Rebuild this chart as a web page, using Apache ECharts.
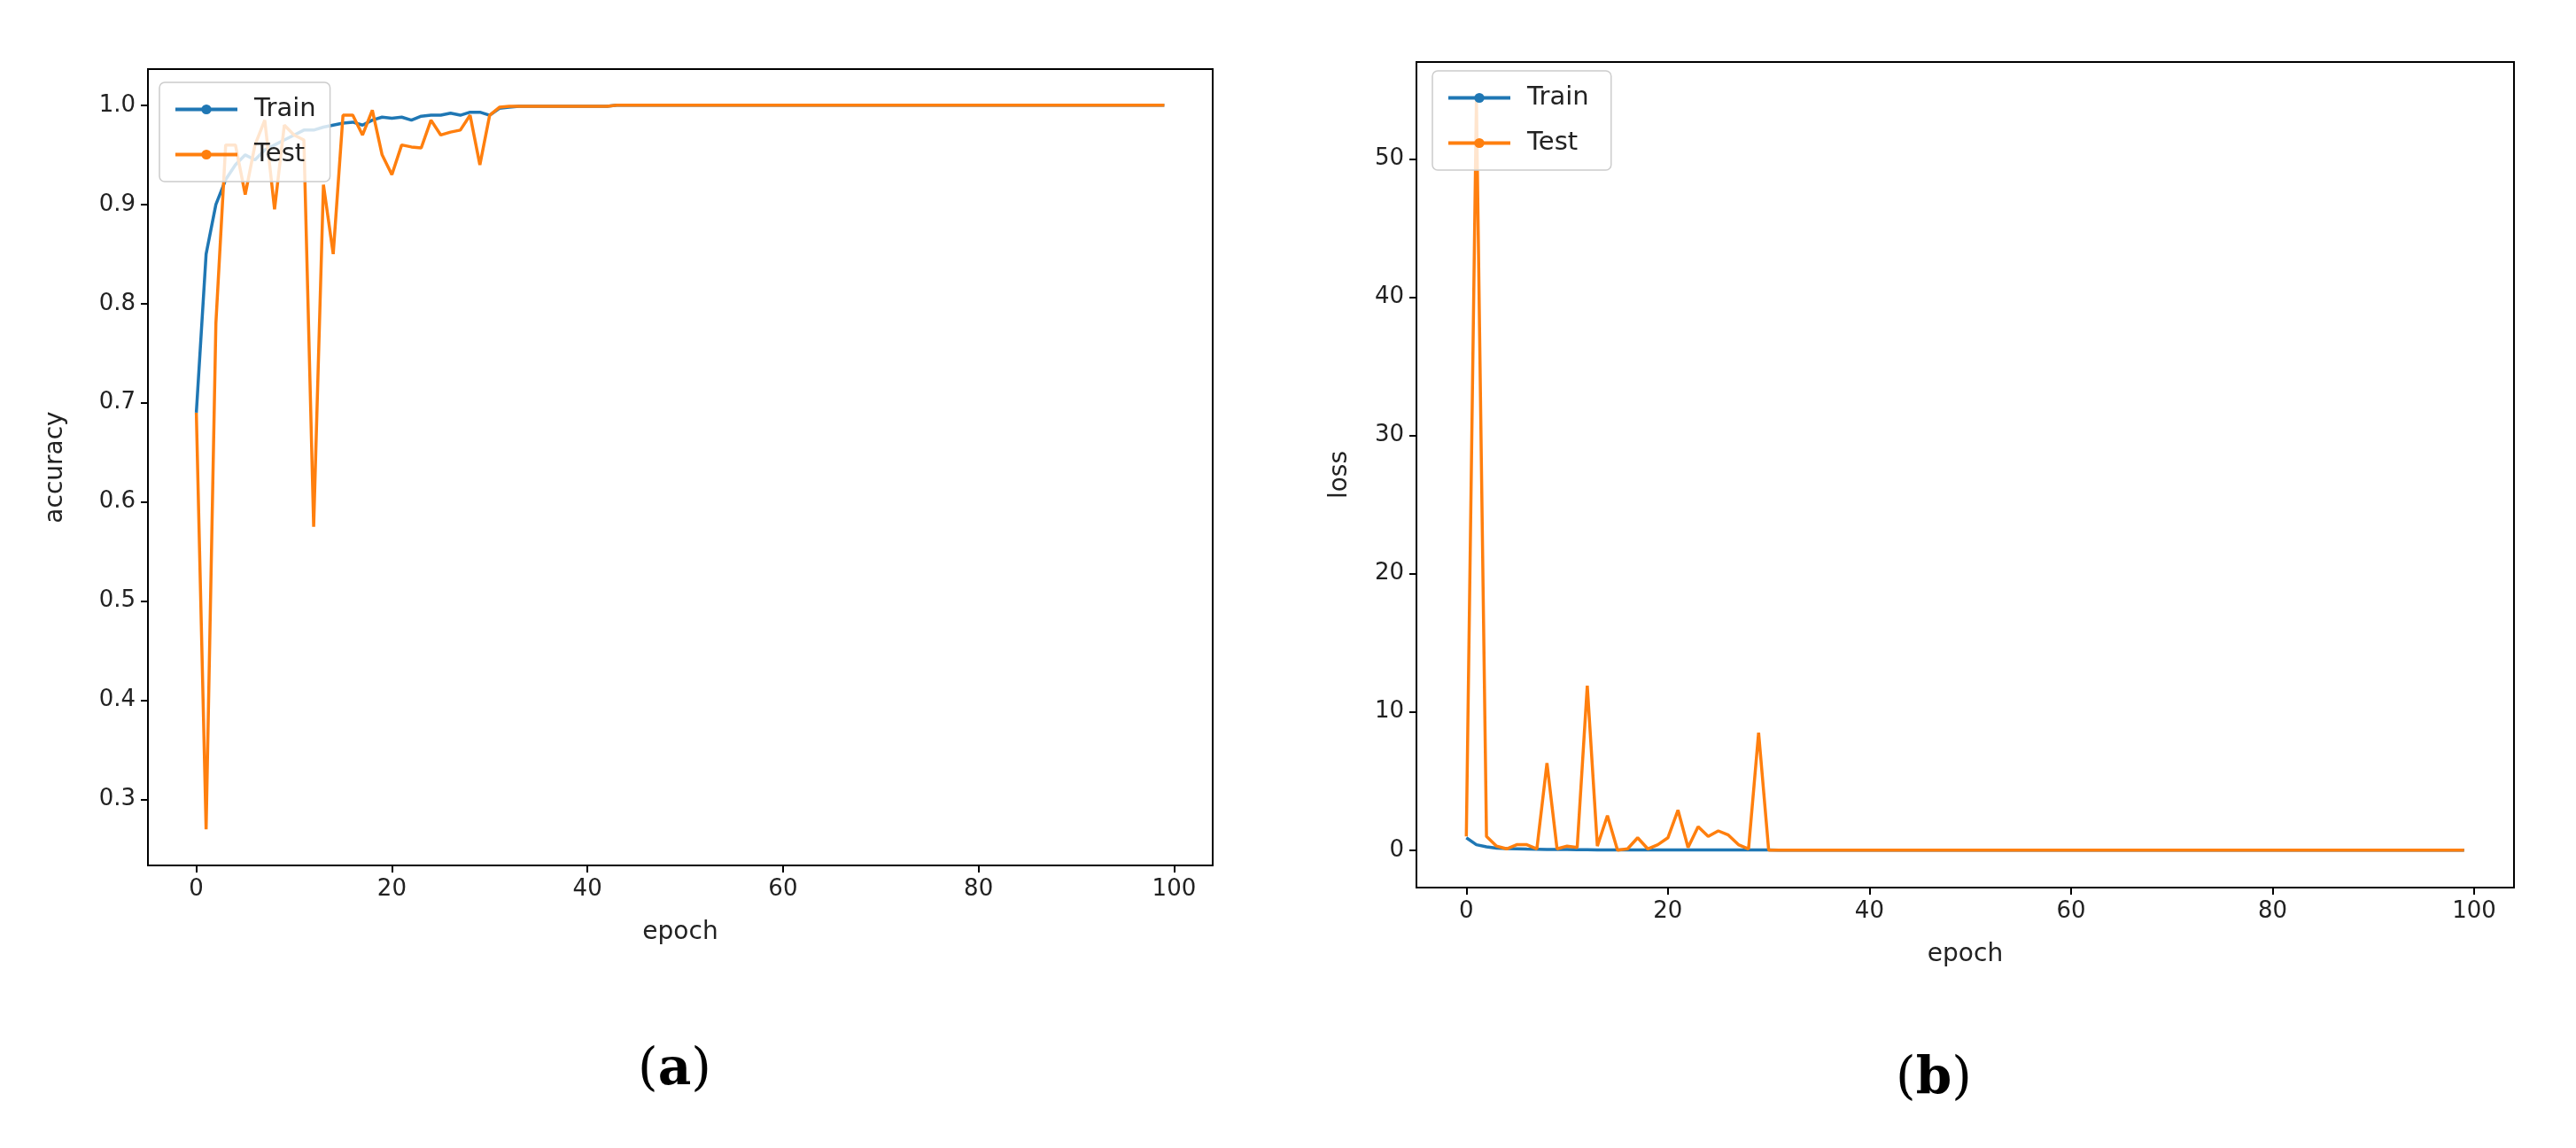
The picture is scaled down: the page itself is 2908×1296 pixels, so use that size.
<!DOCTYPE html>
<html>
<head>
<meta charset="utf-8">
<script src="https://cdn.jsdelivr.net/npm/echarts@6/dist/echarts.min.js"></script>
<style>html,body{margin:0;background:#fff}#c{width:2908px;height:1296px}</style>
</head>
<body>
<div id="c"></div>
<script>
// epochs 0..99
var epochs = [];
for (var i = 0; i < 100; i++) epochs.push(i);

var accTrain = [0.69,0.85,0.90,0.925,0.94,0.95,0.945,0.955,0.96,0.965,
  0.97,0.975,0.975,0.978,0.98,0.982,0.983,0.98,0.985,0.988,
  0.987,0.988,0.985,0.989,0.99,0.99,0.992,0.99,0.993,0.993,
  0.99,0.997,0.998,0.999,0.999,0.999,0.999,0.999,0.999,0.999,
  0.999,0.999,0.999,1,1,1,1,1,1,1,
  1,1,1,1,1,1,1,1,1,1,
  1,1,1,1,1,1,1,1,1,1,
  1,1,1,1,1,1,1,1,1,1,
  1,1,1,1,1,1,1,1,1,1,
  1,1,1,1,1,1,1,1,1,1];
var accTest = [0.69,0.27,0.78,0.96,0.96,0.91,0.96,0.985,0.895,0.98,
  0.97,0.965,0.575,0.92,0.85,0.99,0.99,0.97,0.995,0.95,
  0.93,0.96,0.958,0.957,0.985,0.97,0.973,0.975,0.99,0.94,
  0.99,0.998,0.999,0.999,0.999,0.999,0.999,0.999,0.999,0.999,
  0.999,0.999,0.999,1,1,1,1,1,1,1,
  1,1,1,1,1,1,1,1,1,1,
  1,1,1,1,1,1,1,1,1,1,
  1,1,1,1,1,1,1,1,1,1,
  1,1,1,1,1,1,1,1,1,1,
  1,1,1,1,1,1,1,1,1,1];
var lossTrain = [0.9,0.4,0.25,0.15,0.12,0.1,0.08,0.07,0.06,0.05,
  0.05,0.04,0.04,0.03,0.03,0.03,0.03,0.02,0.02,0.02,
  0.02,0.02,0.02,0.02,0.02,0.02,0.02,0.02,0.02,0.02,
  0.02,0.01,0.01,0.01,0.01,0.01,0.01,0.01,0.01,0.01,
  0.01,0.01,0.01,0.01,0.01,0.01,0.01,0.01,0.01,0.01,
  0,0,0,0,0,0,0,0,0,0,
  0,0,0,0,0,0,0,0,0,0,
  0,0,0,0,0,0,0,0,0,0,
  0,0,0,0,0,0,0,0,0,0,
  0,0,0,0,0,0,0,0,0,0];
var lossTest = [1.0,54.3,1.0,0.3,0.1,0.4,0.4,0.1,6.3,0.1,
  0.3,0.2,11.9,0.3,2.5,0.0,0.1,0.9,0.1,0.4,
  0.9,2.9,0.2,1.7,1.0,1.4,1.1,0.4,0.1,8.5,
  0.0,0.01,0.01,0.01,0.01,0.01,0.01,0.01,0.01,0.01,
  0.01,0.01,0.01,0.01,0.01,0.01,0.01,0.01,0.01,0.01,
  0,0,0,0,0,0,0,0,0,0,
  0,0,0,0,0,0,0,0,0,0,
  0,0,0,0,0,0,0,0,0,0,
  0,0,0,0,0,0,0,0,0,0,
  0,0,0,0,0,0,0,0,0,0];
var xTicks = [0,20,40,60,80,100];
var accTicks = [0.3,0.4,0.5,0.6,0.7,0.8,0.9,1.0];
var lossTicks = [0,10,20,30,40,50];

var BLUE = '#1f77b4', ORANGE = '#ff7f0e';
var font = 'DejaVu Sans';

function pairs(ys) { return ys.map(function (v, i) { return [epochs[i], v]; }); }

function xAxisCfg(gi) {
  return {
    type: 'value', gridIndex: gi, min: -4.95, max: 103.95,
    name: 'epoch', nameLocation: 'middle', nameGap: 62,
    nameTextStyle: { fontFamily: font, fontSize: 28, color: '#222' },
    axisLine: { show: true, onZero: false, lineStyle: { color: '#000', width: 2 } },
    axisTick: { show: true, customValues: xTicks, length: 8, lineStyle: { color: '#000', width: 2 } },
    axisLabel: { customValues: xTicks, fontFamily: font, fontSize: 26, color: '#222', margin: 14 },
    splitLine: { show: false }
  };
}
function yAxisCfg(gi, name, min, max, ticks, fmt) {
  return {
    type: 'value', gridIndex: gi, min: min, max: max,
    name: name, nameLocation: 'middle', nameGap: gi === 0 ? 90 : 72,
    nameTextStyle: { fontFamily: font, fontSize: 28, color: '#222' },
    axisLine: { show: true, onZero: false, lineStyle: { color: '#000', width: 2 } },
    axisTick: { show: true, customValues: ticks, length: 8, lineStyle: { color: '#000', width: 2 } },
    axisLabel: { customValues: ticks, fontFamily: font, fontSize: 26, color: '#222', margin: 14, formatter: fmt },
    splitLine: { show: false }
  };
}
function line(name, gi, data, color, z) {
  return { name: name, type: 'line', xAxisIndex: gi, yAxisIndex: gi, data: pairs(data),
    symbol: 'none', z: z, lineStyle: { color: color, width: 3.5 }, itemStyle: { color: color } };
}
function legendCfg(gi, left, top) {
  return {
    data: gi === 0 ? ['Train', 'Test'] : ['Train ', 'Test '],
    orient: 'vertical', left: left, top: top, itemGap: 22, itemWidth: 70, itemHeight: 14,
    padding: [16, 16, 16, 16], backgroundColor: 'rgba(255,255,255,0.8)',
    borderColor: '#ccc', borderWidth: 1.5, borderRadius: 6,
    lineStyle: { width: 4 },
    textStyle: { fontFamily: font, fontSize: 29, color: '#222', padding: [0, 0, 0, 14] }
  };
}

var chart = echarts.init(document.getElementById('c'));
chart.setOption({
  backgroundColor: '#fff',
  animation: false,
  grid: [
    { left: 167, top: 78, width: 1202, height: 899, show: true, borderColor: '#000', borderWidth: 2 },
    { left: 1599, top: 70, width: 1239, height: 932, show: true, borderColor: '#000', borderWidth: 2 }
  ],
  xAxis: [xAxisCfg(0), xAxisCfg(1)],
  yAxis: [
    yAxisCfg(0, 'accuracy', 0.2335, 1.0365, accTicks, function (v) { return v.toFixed(1); }),
    yAxisCfg(1, 'loss', -2.7, 57.0, lossTicks)
  ],
  legend: [legendCfg(0, 180, 93), legendCfg(1, 1617, 80)],
  graphic: [
    { type: 'text', left: 720, top: 1180, style: { rich: { p: { fontFamily: 'DejaVu Serif', fontSize: 58, fill: '#000' }, b: { fontFamily: 'DejaVu Serif', fontSize: 58, fontWeight: 'bold', fill: '#000' } }, text: '{p|(}{b|a}{p|)}' } },
    { type: 'text', left: 2140, top: 1190, style: { rich: { p: { fontFamily: 'DejaVu Serif', fontSize: 58, fill: '#000' }, b: { fontFamily: 'DejaVu Serif', fontSize: 58, fontWeight: 'bold', fill: '#000' } }, text: '{p|(}{b|b}{p|)}' } }
  ],
  series: [
    line('Train', 0, accTrain, BLUE, 2),
    line('Test', 0, accTest, ORANGE, 3),
    line('Train ', 1, lossTrain, BLUE, 2),
    line('Test ', 1, lossTest, ORANGE, 3)
  ]
});
</script>
</body>
</html>
